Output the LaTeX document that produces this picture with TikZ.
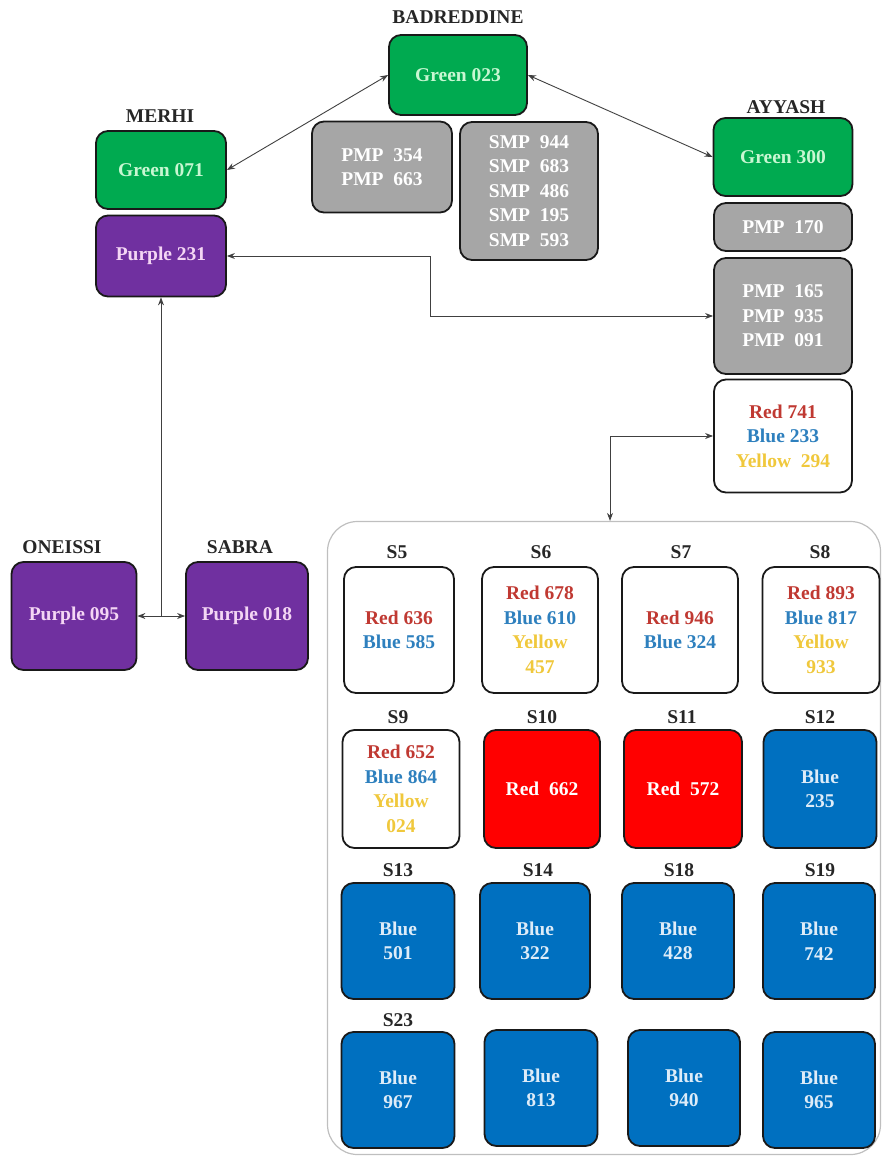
\documentclass[tikz,border=0pt]{standalone}
\usepackage{fontspec}
\setmainfont{Liberation Serif}
\usetikzlibrary{arrows.meta}
\definecolor{grnfill}{RGB}{0,170,80}
\definecolor{grntxt}{RGB}{200,247,210}
\definecolor{prpfill}{RGB}{112,48,160}
\definecolor{prptxt}{RGB}{244,214,244}
\definecolor{gryfill}{RGB}{166,166,166}
\definecolor{redfill}{RGB}{255,0,0}
\definecolor{blufill}{RGB}{0,112,192}
\definecolor{blutxt}{RGB}{222,236,248}
\definecolor{rtxt}{RGB}{192,57,50}
\definecolor{btxt}{RGB}{46,128,190}
\definecolor{ytxt}{RGB}{240,200,60}
\newcommand{\rd}[1]{\textcolor{rtxt}{#1}}
\newcommand{\bl}[1]{\textcolor{btxt}{#1}}
\newcommand{\yl}[1]{\textcolor{ytxt}{#1}}
\begin{document}
\begin{tikzpicture}[x=1pt,y=-1pt,>={Stealth[length=8pt,width=6pt]},
box/.style={draw=black!90,line width=1.8pt,rounded corners=12pt,align=center,inner sep=0pt,font=\fontsize{19.5}{24.5}\selectfont\bfseries},
wh/.style 2 args={minimum width=#1pt,minimum height=#2pt},
grn/.style={box,fill=grnfill,text=grntxt},
prp/.style={box,fill=prpfill,text=prptxt},
gry/.style={box,fill=gryfill,text=white},
wht/.style={box,fill=white},
redbox/.style={box,fill=redfill,text=white},
blubox/.style={box,fill=blufill,text=blutxt},
tag/.style={font=\fontsize{19.5}{22}\selectfont\bfseries,text=black!85},
frame/.style={draw=black!25,line width=1.2pt,rounded corners=30pt},
conn/.style={draw=black!75,line width=0.9pt}]
\useasboundingbox (0,0) rectangle (882,1157);
\node[frame,wh={553}{633}] (grid) at (604,838) {};
\node[tag] at (458,17) {BADREDDINE};
\node[grn,wh={138}{80}] (g023) at (458,75) {Green 023};
\node[tag] at (160,116) {MERHI};
\node[grn,wh={130}{78}] (g071) at (161,170) {Green 071};
\node[prp,wh={130}{81}] (p231) at (161,256) {Purple 231};
\node[gry,wh={140}{91}] (pmp354) at (382,167) {PMP~~354\\PMP~~663};
\node[gry,wh={138}{138}] (smp) at (529,191) {SMP~~944\\SMP~~683\\SMP~~486\\SMP~~195\\SMP~~593};
\node[tag] at (786,107) {AYYASH};
\node[grn,wh={139}{78}] (g300) at (783,157) {Green 300};
\node[gry,wh={138}{48}] (pmp170) at (783,227) {PMP~~170};
\node[gry,wh={138}{116}] (pmp165) at (783,316) {PMP~~165\\PMP~~935\\PMP~~091};
\node[wht,wh={138}{113}] (r741) at (783,436) {\rd{Red 741}\\\bl{Blue 233}\\\yl{Yellow~~294}};
\node[tag] at (62,547) {ONEISSI};
\node[prp,wh={125}{108}] (p095) at (74,616) {Purple 095};
\node[tag] at (240,547) {SABRA};
\node[prp,wh={122}{108}] (p018) at (247,616) {Purple 018};
\node[tag] at (397,552) {S5};
\node[tag] at (541,552) {S6};
\node[tag] at (681,552) {S7};
\node[tag] at (820,552) {S8};
\node[wht,wh={110}{126}] (s5) at (399,630) {\rd{Red 636}\\\bl{Blue 585}};
\node[wht,wh={116}{126}] (s6) at (540,630) {\rd{Red 678}\\\bl{Blue 610}\\\yl{Yellow}\\\yl{457}};
\node[wht,wh={116}{126}] (s7) at (680,630) {\rd{Red 946}\\\bl{Blue 324}};
\node[wht,wh={117}{126}] (s8) at (821,630) {\rd{Red 893}\\\bl{Blue 817}\\\yl{Yellow}\\\yl{933}};
\node[tag] at (398,717) {S9};
\node[tag] at (542,717) {S10};
\node[tag] at (682,717) {S11};
\node[tag] at (820,717) {S12};
\node[wht,wh={117}{118}] (s9) at (401,789) {\rd{Red 652}\\\bl{Blue 864}\\\yl{Yellow}\\\yl{024}};
\node[redbox,wh={116}{118}] (s10) at (542,789) {Red~~662};
\node[redbox,wh={118}{118}] (s11) at (683,789) {Red~~572};
\node[blubox,wh={113}{118}] (s12) at (820,789) {Blue\\235};
\node[tag] at (398,870) {S13};
\node[tag] at (538,870) {S14};
\node[tag] at (679,870) {S18};
\node[tag] at (820,870) {S19};
\node[blubox,wh={113}{116}] (s13) at (398,941) {Blue\\501};
\node[blubox,wh={110}{116}] (s14) at (535,941) {Blue\\322};
\node[blubox,wh={112}{116}] (s18) at (678,941) {Blue\\428};
\node[blubox,wh={112}{116}] (s19) at (819,941) {Blue\\742};
\node[tag] at (398,1020) {S23};
\node[blubox,wh={113}{116}] (s23) at (398,1090) {Blue\\967};
\node[blubox,wh={113}{116}] (s24) at (541,1088) {Blue\\813};
\node[blubox,wh={112}{116}] (s25) at (684,1088) {Blue\\940};
\node[blubox,wh={112}{116}] (s26) at (819,1090) {Blue\\965};
\coordinate (bendA) at (430,0);
\coordinate (bendB) at (610,0);
\coordinate (jn) at (p231 |- p095);
\draw[conn,<->] (g071.east) -- (g023.west);
\draw[conn,<->] (g023.east) -- (g300.west);
\draw[conn,<->] (p231.east) -- (p231.east -| bendA) |- (pmp165.west);
\draw[conn,<->] (grid.north -| bendB) |- (r741.west);
\draw[conn,->] (jn) -- (p231.south);
\draw[conn,<->] (p095.east) -- (p018.west);
\end{tikzpicture}
\end{document}
